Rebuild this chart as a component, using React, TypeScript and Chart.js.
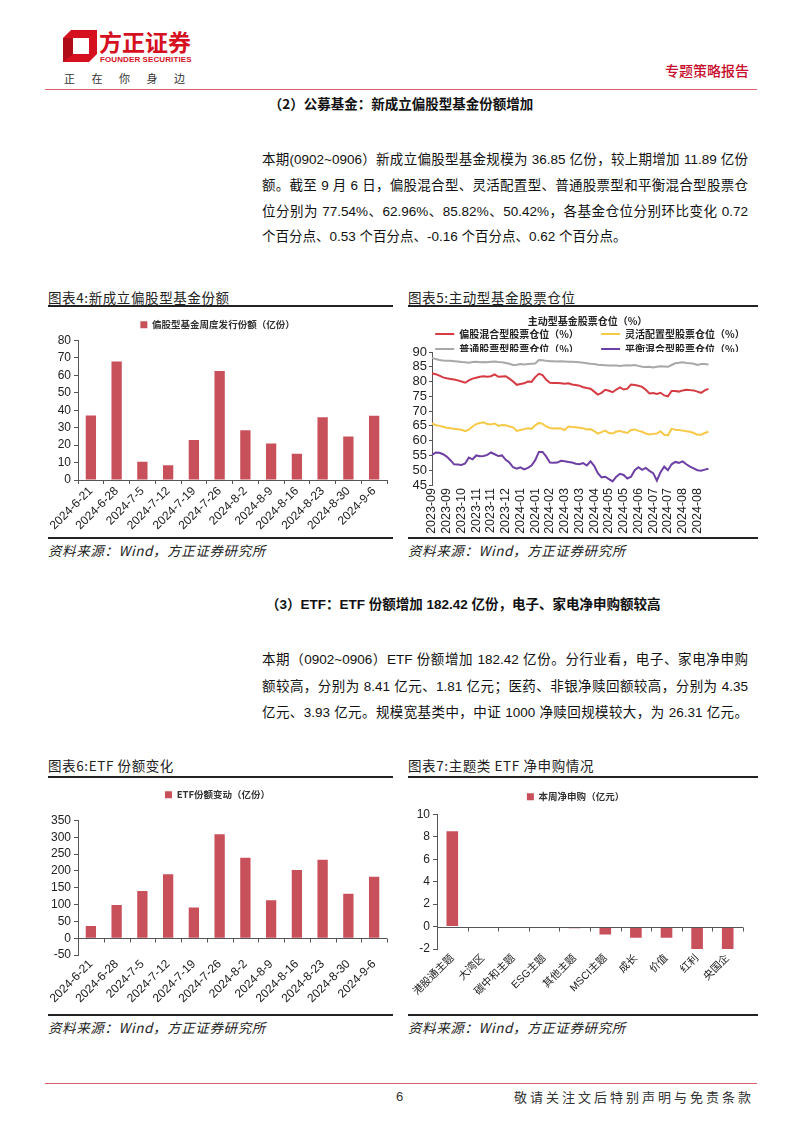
import React, { useEffect, useRef } from 'react';
import { Chart, registerables } from 'chart.js';

Chart.register(...registerables);

const FONT = '"Liberation Sans", "Noto Sans CJK SC", sans-serif';
const CJK = '"Noto Sans CJK SC", "Liberation Sans", sans-serif';

// ---------- Data ----------
const weekLabels = ['2024-6-21', '2024-6-28', '2024-7-5', '2024-7-12', '2024-7-19', '2024-7-26', '2024-8-2', '2024-8-9', '2024-8-16', '2024-8-23', '2024-8-30', '2024-9-6'];
const newFundShares = [37, 68, 10.5, 8.5, 23, 62.5, 28.5, 21, 15, 36, 25, 36.85];
const etfShareChange = [36, 99, 140, 190, 91, 309, 239, 113, 203, 233, 132, 182.42];

const themeLabels = ['港股通主题', '大湾区', '碳中和主题', 'ESG主题', '其他主题', 'MSCI主题', '成长', '价值', '红利', '央国企'];
const themeNetSub = [8.5, 0, 0, 0, -0.15, -0.7, -1.0, -1.0, -2.05, -2.05];

const positionTicks = ['2023-09', '2023-09', '2023-10', '2023-11', '2023-11', '2023-12', '2024-01', '2024-01', '2024-02', '2024-03', '2024-03', '2024-04', '2024-05', '2024-05', '2024-06', '2024-07', '2024-07', '2024-08', '2024-08'];
const mixedEquity = [82.8, 82.5, 82.0, 81.4, 81.1, 80.9, 80.7, 80.4, 80.0, 79.6, 80.4, 81.0, 81.3, 81.6, 81.8, 81.6, 81.8, 82.4, 81.6, 81.7, 81.8, 81.0, 80.0, 78.9, 79.2, 79.4, 80.0, 79.9, 81.5, 82.6, 82.2, 80.6, 79.6, 79.5, 79.5, 79.4, 79.3, 79.4, 79.0, 78.8, 78.6, 78.1, 77.8, 77.6, 76.6, 75.6, 76.2, 77.2, 76.9, 76.4, 77.3, 78.0, 77.3, 77.6, 79.0, 78.8, 78.6, 78.2, 77.2, 76.0, 76.1, 75.8, 76.2, 75.3, 75.0, 76.8, 76.8, 76.6, 77.0, 77.2, 77.1, 77.0, 76.6, 76.2, 77.0, 77.5];
const flexible = [65.8, 65.3, 65.0, 64.7, 64.4, 64.2, 64.0, 63.9, 63.7, 63.2, 63.7, 64.8, 65.6, 66.0, 66.2, 65.6, 65.5, 65.8, 65.0, 65.3, 65.2, 64.8, 64.5, 63.3, 63.6, 63.9, 64.2, 64.0, 65.2, 66.0, 65.7, 64.8, 64.3, 64.1, 64.2, 64.1, 63.6, 64.8, 64.6, 64.5, 64.4, 64.2, 63.8, 63.9, 63.2, 62.4, 62.9, 63.4, 62.6, 62.4, 63.1, 63.3, 62.9, 62.6, 63.6, 63.8, 63.3, 63.0, 62.4, 62.1, 62.3, 62.4, 63.2, 62.0, 61.8, 64.0, 63.7, 63.6, 63.4, 63.2, 63.0, 62.6, 62.0, 62.0, 62.6, 63.0];
const commonStock = [88.0, 87.6, 87.3, 87.1, 87.0, 87.0, 86.9, 86.8, 86.6, 86.5, 86.4, 86.6, 86.7, 86.5, 86.6, 86.5, 86.7, 86.8, 86.6, 86.5, 86.3, 86.0, 85.6, 85.7, 85.9, 85.8, 85.9, 86.0, 86.1, 87.3, 87.2, 87.0, 86.9, 86.9, 86.8, 86.9, 86.8, 86.7, 86.7, 86.6, 86.5, 86.4, 86.2, 86.0, 85.9, 85.7, 85.6, 85.5, 85.4, 85.4, 85.4, 85.3, 85.4, 85.5, 85.4, 85.6, 85.3, 85.0, 84.9, 85.0, 84.8, 85.0, 85.2, 85.1, 85.0, 85.6, 86.2, 86.4, 86.5, 86.3, 86.2, 86.0, 85.6, 85.9, 85.9, 85.8];
const balanced = [55.2, 56.0, 55.9, 55.4, 54.6, 53.4, 52.0, 51.9, 51.8, 52.3, 54.3, 53.7, 55.0, 54.7, 54.8, 55.2, 56.0, 55.4, 54.8, 55.0, 53.5, 52.6, 51.0, 50.5, 51.0, 50.3, 50.8, 51.6, 53.4, 56.2, 56.2, 54.6, 52.6, 52.5, 52.6, 53.2, 53.0, 52.8, 52.6, 52.2, 52.0, 52.4, 51.6, 53.0, 51.5, 49.0, 47.6, 47.8, 47.0, 46.2, 47.8, 48.8, 48.4, 47.2, 47.8, 50.0, 51.0, 50.1, 50.8, 49.8, 49.0, 46.5, 49.3, 51.2, 50.0, 52.0, 52.8, 52.5, 53.0, 52.0, 51.2, 50.6, 50.0, 49.8, 50.2, 50.5];

// category slots for the position chart: one tick label every 4 observations, plus empty slots at the right
const positionSlots: string[] = Array.from({ length: 87 }, (_, i) =>
  i % 4 === 0 && i / 4 < positionTicks.length ? positionTicks[i / 4] : ''
);

const BAR = '#C8505A';
const AXIS = '#555555';
const TICK = '#222222';

const zeroAxisPlugin = {
  id: 'zeroAxis',
  afterDatasetsDraw(chart: any) {
    const { ctx, chartArea, scales } = chart;
    const x = scales.x;
    const y = scales.y;
    const y0 = Math.round(y.getPixelForValue(0)) + 0.5;
    const n = chart.data.labels.length;
    const w = n > 1 ? x.getPixelForValue(1) - x.getPixelForValue(0) : chartArea.right - chartArea.left;
    ctx.save();
    ctx.strokeStyle = AXIS;
    ctx.lineWidth = 1;
    ctx.beginPath();
    ctx.moveTo(chartArea.left, y0);
    ctx.lineTo(chartArea.right, y0);
    for (let i = 0; i <= n; i++) {
      const px = Math.round(x.getPixelForValue(0) - w / 2 + i * w) + 0.5;
      ctx.moveTo(px, y0);
      ctx.lineTo(px, y0 + 4);
    }
    ctx.stroke();
    ctx.restore();
  },
};

function barLegend() {
  return {
    display: true,
    position: 'top',
    weight: 3000,
    labels: {
      boxWidth: 7,
      boxHeight: 7,
      padding: 1,
      font: { family: CJK, size: 9.5, weight: 'bold' },
      color: '#333',
    },
  };
}

// empty title used only as a gap between the legend and the plot
function spacer(gap: number) {
  return {
    display: true,
    text: '',
    weight: 2000,
    font: { size: 1, lineHeight: 1 },
    padding: { top: Math.max(gap - 1, 0), bottom: 0 },
  };
}

function yAxis(min: number, max: number, step: number, width: number, size = 12) {
  return {
    min,
    max,
    ticks: { stepSize: step, autoSkip: false, font: { family: FONT, size }, color: TICK, padding: 3 },
    grid: { drawOnChartArea: false, drawTicks: true, tickLength: 4, color: AXIS },
    border: { display: true, color: AXIS },
    afterFit: (s: any) => {
      s.width = width;
    },
  };
}

function config4() {
  return {
    type: 'bar',
    data: {
      labels: weekLabels,
      datasets: [
        {
          label: '偏股型基金周度发行份额（亿份）',
          data: newFundShares,
          backgroundColor: BAR,
          barPercentage: 0.4,
          categoryPercentage: 1,
        },
      ],
    },
    options: {
      responsive: false,
      animation: false,
      layout: { padding: { top: 9, right: 6, left: 0, bottom: 0 } },
      plugins: { legend: barLegend(), title: spacer(1), tooltip: { enabled: false } },
      scales: {
        x: {
          grid: { display: true, drawOnChartArea: false, drawTicks: true, tickLength: 4, color: AXIS, offset: true },
          border: { display: true, color: AXIS },
          ticks: { autoSkip: false, minRotation: 45, maxRotation: 45, font: { family: FONT, size: 12 }, color: TICK, padding: 0 },
          afterFit: (s: any) => {
            s.height = 55;
          },
        },
        y: yAxis(0, 80, 10, 30),
      },
    },
  };
}

function config5() {
  const pad = '\u3000\u3000 ';
  const line = (label: string, data: number[], color: string) => ({
    label: label + pad,
    data,
    borderColor: color,
    backgroundColor: color,
    borderWidth: 2,
    pointRadius: 0,
    tension: 0,
    fill: false,
  });
  return {
    type: 'line',
    data: {
      labels: positionSlots,
      datasets: [
        line('偏股混合型股票仓位（%）', mixedEquity, '#D63A42'),
        line('灵活配置型股票仓位（%）', flexible, '#F7C948'),
        line('普通股票型股票仓位（%）', commonStock, '#A8A8A8'),
        line('平衡混合型股票仓位（%）', balanced, '#6E40A4'),
      ],
    },
    options: {
      responsive: false,
      animation: false,
      layout: { padding: { top: 0, right: 0, left: 0, bottom: 0 } },
      plugins: {
        title: {
          display: true,
          text: '主动型基金股票仓位（%）',
          font: { family: CJK, size: 10, weight: 'bold' },
          color: '#222',
          padding: { top: 5, bottom: -3 },
        },
        legend: {
          display: true,
          position: 'top',
          align: 'end',
          maxHeight: 28,
          labels: {
            usePointStyle: true,
            pointStyle: 'line',
            pointStyleWidth: 19,
            padding: 5,
            font: { family: CJK, size: 10, weight: 'bold' },
            color: '#222',
          },
        },
        tooltip: { enabled: false },
      },
      scales: {
        x: {
          grid: { display: false, drawTicks: false },
          border: { display: false },
          ticks: { autoSkip: false, minRotation: 90, maxRotation: 90, font: { family: FONT, size: 12.5 }, color: TICK, padding: 3 },
          afterFit: (s: any) => {
            s.height = 50;
          },
        },
        y: {
          min: 45,
          max: 90,
          ticks: { stepSize: 5, autoSkip: false, font: { family: FONT, size: 13 }, color: TICK, padding: 2 },
          grid: { drawOnChartArea: false, drawTicks: true, tickLength: 3, color: AXIS },
          border: { display: true, color: AXIS },
          afterFit: (s: any) => {
            s.width = 24;
          },
        },
      },
    },
  };
}

function config6() {
  return {
    type: 'bar',
    data: {
      labels: weekLabels,
      datasets: [
        {
          label: 'ETF份额变动（亿份）',
          data: etfShareChange,
          backgroundColor: BAR,
          barPercentage: 0.4,
          categoryPercentage: 1,
        },
      ],
    },
    options: {
      responsive: false,
      animation: false,
      layout: { padding: { top: 10, right: 6, left: 0, bottom: 0 } },
      plugins: { legend: barLegend(), title: spacer(11), tooltip: { enabled: false } },
      scales: {
        x: {
          grid: { display: false, drawTicks: false },
          border: { display: false },
          ticks: { autoSkip: false, minRotation: 45, maxRotation: 45, font: { family: FONT, size: 12 }, color: TICK, padding: 2 },
          afterFit: (s: any) => {
            s.height = 58;
          },
        },
        y: yAxis(-50, 350, 50, 30),
      },
    },
    plugins: [zeroAxisPlugin],
  };
}

function config7() {
  return {
    type: 'bar',
    data: {
      labels: themeLabels,
      datasets: [
        {
          label: '本周净申购（亿元）',
          data: themeNetSub,
          backgroundColor: BAR,
          barPercentage: 0.38,
          categoryPercentage: 1,
        },
      ],
    },
    options: {
      responsive: false,
      animation: false,
      layout: { padding: { top: 11, right: 15, left: 0, bottom: 0 } },
      plugins: { legend: barLegend(), title: spacer(3), tooltip: { enabled: false } },
      scales: {
        x: {
          grid: { display: false, drawTicks: false },
          border: { display: false },
          ticks: { autoSkip: false, minRotation: 45, maxRotation: 45, font: { family: FONT, size: 10.5 }, color: TICK, padding: 3 },
          afterFit: (s: any) => {
            s.height = 64;
          },
        },
        y: yAxis(-2, 10, 2, 29),
      },
    },
    plugins: [zeroAxisPlugin],
  };
}

function ChartBox({ make, left, top, width, height }: { make: () => any; left: number; top: number; width: number; height: number }) {
  const ref = useRef<HTMLCanvasElement | null>(null);
  useEffect(() => {
    if (!ref.current) return;
    const chart = new Chart(ref.current, make());
    return () => chart.destroy();
  }, []);
  return (
    <canvas
      ref={ref}
      width={width}
      height={height}
      style={{ position: 'absolute', left, top, width, height }}
    />
  );
}

const abs = (left: number, top: number, extra: React.CSSProperties = {}): React.CSSProperties => ({
  position: 'absolute',
  left,
  top,
  whiteSpace: 'nowrap',
  ...extra,
});

const bodyFont: React.CSSProperties = { fontFamily: FONT, fontSize: 13.5, color: '#111', lineHeight: '26px' };

function JLine({ top, text, last = false }: { top: number; text: string; last?: boolean }) {
  return (
    <div
      style={{
        position: 'absolute',
        left: 262,
        top: top - 13,
        width: 486,
        textAlign: 'justify',
        textAlignLast: last ? 'left' : 'justify',
        ...bodyFont,
      }}
    >
      {text}
    </div>
  );
}

function Rule({ left, top, width, h = 2, color = '#222' }: { left: number; top: number; width: number; h?: number; color?: string }) {
  return <div style={{ position: 'absolute', left, top, width, height: h, background: color }} />;
}

const captionStyle: React.CSSProperties = { fontFamily: CJK, fontSize: 13.5, color: '#222', letterSpacing: 0.6, lineHeight: '18px' };
const sourceStyle: React.CSSProperties = { fontFamily: CJK, fontSize: 13.5, color: '#222', fontStyle: 'italic', letterSpacing: 0.6, lineHeight: '18px' };
const SOURCE = '资料来源：Wind，方正证券研究所';

export default function App() {
  return (
    <div style={{ position: 'absolute', left: 0, top: 0, width: 802, height: 1133, background: '#fff', overflow: 'hidden' }}>
      {/* header */}
      <svg style={{ position: 'absolute', left: 63, top: 30 }} width={34} height={32} viewBox="0 0 34 32">
        <polygon points="8,0 34,0 34,24 26,32 0,32 0,8" fill="#D5101F" />
        <polygon points="10,8 26,8 26,24 10,24" fill="#fff" />
        <polygon points="0,8 10,8 10,24 0,32" fill="#B00C18" />
      </svg>
      <div style={abs(99, 27, { fontFamily: CJK, fontSize: 23, fontWeight: 'bold', color: '#D5101F', lineHeight: '28px', letterSpacing: 0 })}>方正证券</div>
      <div style={abs(100, 55, { fontFamily: FONT, fontSize: 8, fontWeight: 'bold', color: '#D5101F', lineHeight: '10px', letterSpacing: 0.1 })}>FOUNDER SECURITIES</div>
      <div style={abs(64, 71, { fontFamily: CJK, fontSize: 11, color: '#333', lineHeight: '14px', letterSpacing: 16.5 })}>正在你身边</div>
      <div style={abs(665, 61, { fontFamily: CJK, fontSize: 14, color: '#C8102E', lineHeight: '18px', fontWeight: 500 })}>专题策略报告</div>
      <Rule left={45} top={89} width={712} h={1} color="#D8606C" />

      <div style={abs(0, 94, { width: 802, textAlign: 'center', fontFamily: CJK, fontSize: 13.5, fontWeight: 'bold', color: '#111', lineHeight: '18px' })}>
        （2）公募基金：新成立偏股型基金份额增加
      </div>

      <JLine top={160} text="本期(0902~0906）新成立偏股型基金规模为 36.85 亿份，较上期增加 11.89 亿份" />
      <JLine top={186} text="额。截至 9 月 6 日，偏股混合型、灵活配置型、普通股票型和平衡混合型股票仓" />
      <JLine top={212} text="位分别为 77.54%、62.96%、85.82%、50.42%，各基金仓位分别环比变化 0.72" />
      <JLine top={237} text="个百分点、0.53 个百分点、-0.16 个百分点、0.62 个百分点。" last />

      {/* figure 4 & 5 */}
      <div style={abs(48, 288, captionStyle)}>图表4:新成立偏股型基金份额</div>
      <div style={abs(408, 288, captionStyle)}>图表5:主动型基金股票仓位</div>
      <Rule left={48} top={305} width={345} />
      <Rule left={408} top={305} width={350} />

      <ChartBox make={config4} left={48} top={310} width={345} height={225} />
      <ChartBox make={config5} left={408} top={310} width={359} height={225} />

      <Rule left={48} top={537} width={345} />
      <Rule left={408} top={537} width={350} />
      <div style={abs(48, 541, sourceStyle)}>{SOURCE}</div>
      <div style={abs(408, 541, sourceStyle)}>{SOURCE}</div>

      {/* section 3 */}
      <div style={abs(266, 596, { fontFamily: FONT, fontSize: 13.5, fontWeight: 'bold', color: '#111', lineHeight: '18px' })}>
        （3）ETF：ETF 份额增加 182.42 亿份，电子、家电净申购额较高
      </div>
      <JLine top={660} text="本期（0902~0906）ETF 份额增加 182.42 亿份。分行业看，电子、家电净申购" />
      <JLine top={687} text="额较高，分别为 8.41 亿元、1.81 亿元；医药、非银净赎回额较高，分别为 4.35" />
      <JLine top={713} text="亿元、3.93 亿元。规模宽基类中，中证 1000 净赎回规模较大，为 26.31 亿元。" />

      {/* figure 6 & 7 */}
      <div style={abs(48, 756, captionStyle)}>图表6:ETF 份额变化</div>
      <div style={abs(408, 756, captionStyle)}>图表7:主题类 ETF 净申购情况</div>
      <Rule left={48} top={776} width={345} />
      <Rule left={408} top={776} width={350} />

      <ChartBox make={config6} left={48} top={779} width={345} height={234} />
      <ChartBox make={config7} left={408} top={780} width={350} height={233} />

      <Rule left={48} top={1014} width={345} />
      <Rule left={408} top={1014} width={350} />
      <div style={abs(48, 1018, sourceStyle)}>{SOURCE}</div>
      <div style={abs(408, 1018, sourceStyle)}>{SOURCE}</div>

      {/* footer */}
      <Rule left={45} top={1083} width={712} h={1} color="#D8606C" />
      <div style={abs(396, 1089, { fontFamily: FONT, fontSize: 13, color: '#333', lineHeight: '16px' })}>6</div>
      <div style={abs(512, 1089, { width: 242, textAlign: 'right', fontFamily: CJK, fontSize: 13, color: '#333', lineHeight: '16px', letterSpacing: 3 })}>
        敬请关注文后特别声明与免责条款
      </div>
    </div>
  );
}
